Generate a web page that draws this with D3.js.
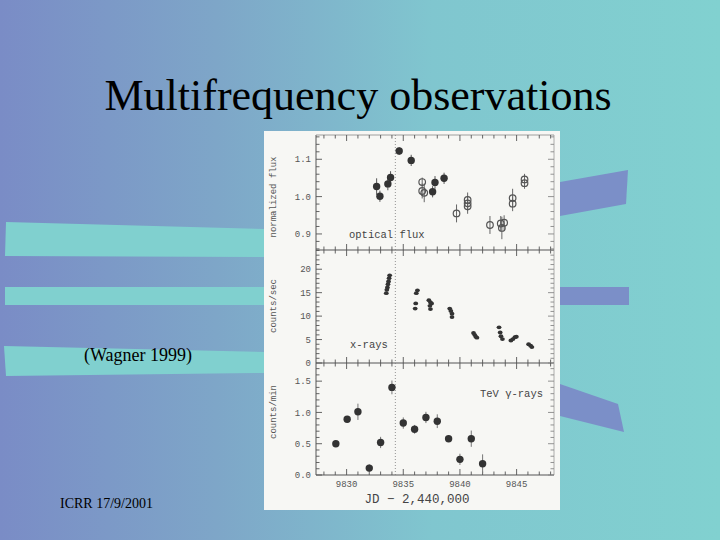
<!DOCTYPE html>
<html>
<head>
<meta charset="utf-8">
<script src="https://cdn.jsdelivr.net/npm/d3@7"></script>
<style>
  body { margin: 0; padding: 0; }
  svg { display: block; }
  .tick-label { font-family: "Liberation Mono", "DejaVu Sans Mono", monospace; font-size: 9px; fill: #555; }
  .panel-label { font-family: "Liberation Mono", "DejaVu Sans Mono", monospace; font-size: 10.5px; fill: #444; }
  .slide-text { font-family: "Liberation Serif", "DejaVu Serif", serif; fill: #000; }
</style>
</head>
<body>
<div id="chart"></div>
<script>
// optical flux, filled points
const optFilledDay  = [9832.65, 9832.94, 9833.64, 9833.88, 9834.64, 9835.70, 9837.59, 9837.80, 9838.60];
const optFilledFlux = [1.027, 1.001, 1.034, 1.051, 1.122, 1.097, 1.013, 1.038, 1.049];
const optFilledErr  = [0.022, 0.015, 0.017, 0.017, 0.010, 0.015, 0.015, 0.017, 0.015];

// optical flux, open points
const optOpenDay  = [9836.67, 9836.67, 9836.85, 9839.70, 9840.68, 9840.68, 9840.68, 9842.65, 9843.60, 9843.90, 9843.70, 9844.65, 9844.65, 9845.70, 9845.70];
const optOpenFlux = [1.039, 1.015, 1.010, 0.955, 0.991, 0.982, 0.974, 0.924, 0.928, 0.930, 0.916, 0.996, 0.981, 1.046, 1.036];
const optOpenErr  = [0.012, 0.020, 0.025, 0.024, 0.020, 0.020, 0.020, 0.024, 0.020, 0.020, 0.030, 0.025, 0.020, 0.015, 0.015];

// x-rays
const xrayDay  = [9833.50, 9833.55, 9833.60, 9833.65, 9833.70, 9833.75, 9833.80,
                  9836.05, 9836.10, 9836.15, 9836.25,
                  9837.26, 9837.40, 9837.50, 9837.35, 9837.40,
                  9839.10, 9839.20, 9839.30, 9839.30,
                  9841.20, 9841.30, 9841.40, 9841.50,
                  9843.45, 9843.55, 9843.62, 9843.75,
                  9844.50, 9844.68, 9844.85, 9844.98,
                  9846.06, 9846.24, 9846.35];
const xrayRate = [14.9, 15.6, 16.1, 16.8, 17.4, 18.1, 18.7,
                  11.6, 12.7, 14.9, 15.5,
                  13.4, 12.9, 12.7, 12.2, 11.5,
                  11.6, 11.1, 10.5, 9.8,
                  6.4, 6.0, 5.6, 5.4,
                  7.6, 6.5, 5.7, 5.1,
                  4.8, 5.1, 5.5, 5.6,
                  4.0, 3.7, 3.4];

// TeV gamma-rays
const tevDay  = [9829.05, 9830.05, 9831.0, 9832.0, 9833.0, 9834.0, 9835.0, 9836.0, 9837.0, 9838.0, 9839.0, 9840.0, 9841.0, 9842.0];
const tevRate = [0.50, 0.89, 1.01, 0.11, 0.52, 1.40, 0.83, 0.73, 0.92, 0.86, 0.58, 0.25, 0.58, 0.18];
const tevErr  = [0.03, 0.04, 0.13, 0.06, 0.09, 0.11, 0.09, 0.07, 0.09, 0.11, 0.03, 0.09, 0.13, 0.15];

const flareDay = 9834.3;

const optTicks  = [0.9, 1.0, 1.1];
const xrayTicks = [0, 5, 10, 15, 20];
const tevTicks  = [0.0, 0.5, 1.0, 1.5];
const dayTicks  = [9830, 9835, 9840, 9845];

const W = 720, H = 540;
const svg = d3.select("#chart").append("svg").attr("width", W).attr("height", H);

// ---- slide background ----
const defs = svg.append("defs");
const grad = defs.append("linearGradient").attr("id", "bg").attr("x1", "0").attr("x2", "1").attr("y1", "0").attr("y2", "0");
grad.append("stop").attr("offset", "0").attr("stop-color", "#7a8cc6");
grad.append("stop").attr("offset", "0.3").attr("stop-color", "#7ea6c8");
grad.append("stop").attr("offset", "0.6").attr("stop-color", "#80c6cf");
grad.append("stop").attr("offset", "1").attr("stop-color", "#81d1d0");
svg.append("rect").attr("width", W).attr("height", H).attr("fill", "url(#bg)");

const teal = "#80d0cf", blue = "#7b8fc8";
const stripes = [
  {c: teal, p: [[6, 222], [264, 229], [264, 257], [5, 256]]},
  {c: teal, p: [[5, 287], [264, 287], [264, 305], [5, 305]]},
  {c: teal, p: [[4, 346], [264, 352], [264, 373], [6, 376]]},
  {c: blue, p: [[560, 182], [628, 170], [626, 204], [560, 216]]},
  {c: blue, p: [[560, 287], [629, 287], [629, 305], [560, 305]]},
  {c: blue, p: [[560, 384], [618, 404], [624, 432], [560, 416]]}
];
svg.selectAll("polygon.stripe").data(stripes).enter().append("polygon")
  .attr("class", "stripe")
  .attr("points", d => d.p.map(q => q.join(",")).join(" "))
  .attr("fill", d => d.c);

svg.append("text").attr("class", "slide-text")
  .attr("x", 358).attr("y", 110).attr("text-anchor", "middle")
  .attr("font-size", 44).text("Multifrequency observations");
svg.append("text").attr("class", "slide-text")
  .attr("x", 138).attr("y", 361).attr("text-anchor", "middle")
  .attr("font-size", 18).text("(Wagner 1999)");
svg.append("text").attr("class", "slide-text")
  .attr("x", 60).attr("y", 508)
  .attr("font-size", 14).text("ICRR 17/9/2001");

// ---- scanned figure ----
svg.append("rect").attr("x", 264).attr("y", 131).attr("width", 296).attr("height", 379).attr("fill", "#f7f7f4");

const left = 316, right = 554;
const x = d3.scaleLinear().domain([9827.3, 9848.3]).range([left, right]);

const panels = [
  {top: 135, bottom: 250, domain: [0.857, 1.165], ticks: optTicks, minor: 0.02, fmt: d3.format(".1f"), label: "normalized flux", labelY: 197},
  {top: 250, bottom: 363, domain: [0, 24.1], ticks: xrayTicks, minor: 1, fmt: d3.format("d"), label: "counts/sec", labelY: 306},
  {top: 363, bottom: 475, domain: [0, 1.79], ticks: tevTicks, minor: 0.1, fmt: d3.format(".1f"), label: "counts/min", labelY: 412}
];
panels.forEach(p => { p.y = d3.scaleLinear().domain(p.domain).range([p.bottom, p.top]); });

const ink = "#555";
const axisG = svg.append("g");

panels.forEach((p, i) => {
  // frame
  axisG.append("line").attr("x1", left).attr("x2", left).attr("y1", p.top).attr("y2", p.bottom).attr("stroke", ink).attr("stroke-width", 1);
  axisG.append("line").attr("x1", right).attr("x2", right).attr("y1", p.top).attr("y2", p.bottom).attr("stroke", "#999").attr("stroke-width", 0.8);
  axisG.append("line").attr("x1", left).attr("x2", right).attr("y1", p.bottom).attr("y2", p.bottom).attr("stroke", ink).attr("stroke-width", 1.2);
  if (i === 0) axisG.append("line").attr("x1", left).attr("x2", right).attr("y1", p.top).attr("y2", p.top).attr("stroke", "#888").attr("stroke-width", 0.8);

  // x ticks (bottom and top of every panel, inward)
  const days = d3.range(9828, 9849);
  days.forEach(d => {
    const len = d % 5 === 0 ? 6 : 3.5;
    axisG.append("line").attr("x1", x(d)).attr("x2", x(d)).attr("y1", p.bottom).attr("y2", p.bottom - len).attr("stroke", ink).attr("stroke-width", 0.9);
    axisG.append("line").attr("x1", x(d)).attr("x2", x(d)).attr("y1", p.top).attr("y2", p.top + len).attr("stroke", ink).attr("stroke-width", 0.9);
  });

  // y ticks, major and minor, on left and right
  const n0 = Math.ceil(p.domain[0] / p.minor - 1e-6), n1 = Math.floor(p.domain[1] / p.minor + 1e-6);
  d3.range(n0, n1 + 1).forEach(k => {
    const v = k * p.minor;
    const major = p.ticks.some(t => Math.abs(t - v) < p.minor / 10);
    const len = major ? 6 : 3.5;
    axisG.append("line").attr("x1", left).attr("x2", left + len).attr("y1", p.y(v)).attr("y2", p.y(v)).attr("stroke", ink).attr("stroke-width", 0.9);
    axisG.append("line").attr("x1", right).attr("x2", right - len).attr("y1", p.y(v)).attr("y2", p.y(v)).attr("stroke", "#888").attr("stroke-width", 0.9);
  });

  axisG.selectAll(null).data(p.ticks).enter().append("text")
    .attr("class", "tick-label")
    .attr("x", left - 5).attr("y", d => p.y(d)).attr("dy", "0.35em")
    .attr("text-anchor", "end").text(p.fmt);

  axisG.append("text").attr("class", "tick-label")
    .attr("transform", `translate(273,${p.labelY}) rotate(-90)`)
    .attr("text-anchor", "middle").attr("dy", "0.35em")
    .text(p.label);
});

axisG.selectAll(null).data(dayTicks).enter().append("text")
  .attr("class", "tick-label")
  .attr("x", d => x(d)).attr("y", 487).attr("text-anchor", "middle").text(d => d);

axisG.append("text").attr("class", "panel-label")
  .attr("x", 417).attr("y", 503).attr("text-anchor", "middle").style("font-size", "12.5px")
  .text("JD \u2212 2,440,000");

// flare marker
svg.append("line").attr("x1", x(flareDay)).attr("x2", x(flareDay)).attr("y1", 135).attr("y2", 475)
  .attr("stroke", "#777").attr("stroke-width", 0.8).attr("stroke-dasharray", "1,2");

// panel labels
svg.append("text").attr("class", "panel-label").attr("x", 349).attr("y", 238).text("optical flux");
svg.append("text").attr("class", "panel-label").attr("x", 350).attr("y", 348).text("x-rays");
svg.append("text").attr("class", "panel-label").attr("x", 543).attr("y", 397).attr("text-anchor", "end").text("TeV \u03b3-rays");

const dot = "#333";
const yo = panels[0].y, yx = panels[1].y, yt = panels[2].y;

// optical open points
const openG = svg.append("g");
optOpenDay.forEach((d, i) => {
  openG.append("line").attr("x1", x(d)).attr("x2", x(d))
    .attr("y1", yo(optOpenFlux[i] - optOpenErr[i])).attr("y2", yo(optOpenFlux[i] + optOpenErr[i]))
    .attr("stroke", "#666").attr("stroke-width", 1);
});
openG.selectAll("circle").data(optOpenDay).enter().append("circle")
  .attr("cx", d => x(d)).attr("cy", (d, i) => yo(optOpenFlux[i])).attr("r", 3.3)
  .attr("fill", "none").attr("stroke", "#555").attr("stroke-width", 1.2);

// optical filled points
const fillG = svg.append("g");
optFilledDay.forEach((d, i) => {
  fillG.append("line").attr("x1", x(d)).attr("x2", x(d))
    .attr("y1", yo(optFilledFlux[i] - optFilledErr[i])).attr("y2", yo(optFilledFlux[i] + optFilledErr[i]))
    .attr("stroke", "#555").attr("stroke-width", 1);
});
fillG.selectAll("circle").data(optFilledDay).enter().append("circle")
  .attr("cx", d => x(d)).attr("cy", (d, i) => yo(optFilledFlux[i])).attr("r", 3.7)
  .attr("fill", dot);

// x-ray points
svg.append("g").selectAll("ellipse").data(xrayDay).enter().append("ellipse")
  .attr("cx", d => x(d)).attr("cy", (d, i) => yx(xrayRate[i])).attr("rx", 2.4).attr("ry", 1.9)
  .attr("fill", dot);

// TeV points
const tevG = svg.append("g");
tevDay.forEach((d, i) => {
  tevG.append("line").attr("x1", x(d)).attr("x2", x(d))
    .attr("y1", yt(tevRate[i] - tevErr[i])).attr("y2", yt(tevRate[i] + tevErr[i]))
    .attr("stroke", "#777").attr("stroke-width", 1);
});
tevG.selectAll("circle").data(tevDay).enter().append("circle")
  .attr("cx", d => x(d)).attr("cy", (d, i) => yt(tevRate[i])).attr("r", 3.7)
  .attr("fill", dot);
</script>
</body>
</html>
